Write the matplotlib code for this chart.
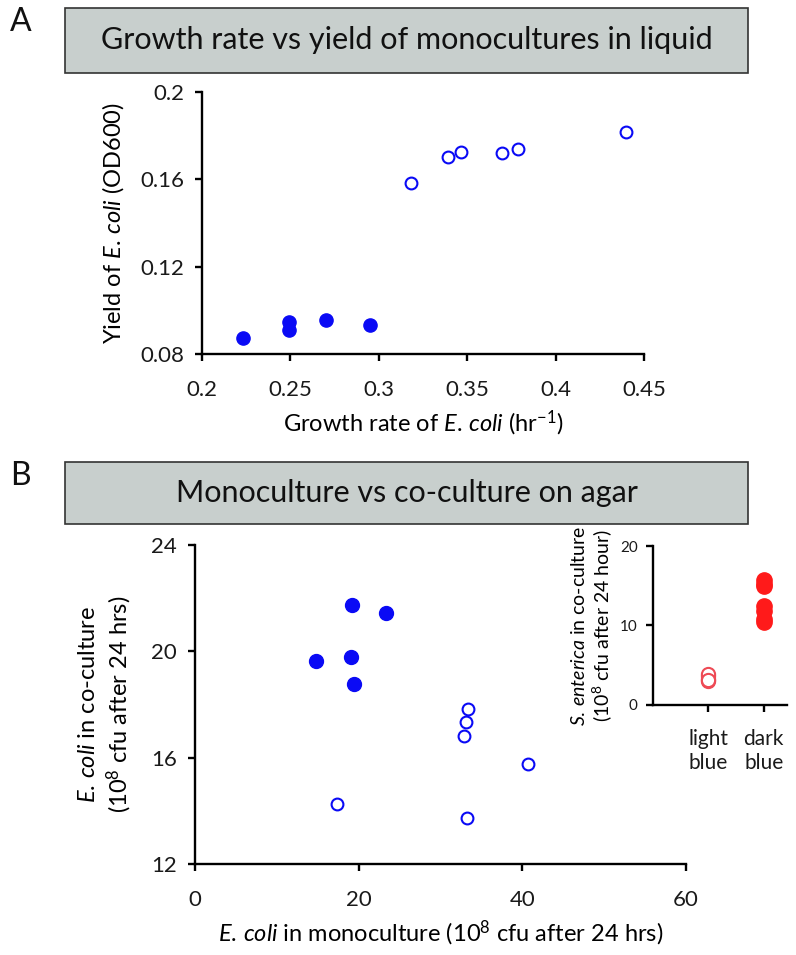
import matplotlib
matplotlib.use("Agg")
import matplotlib.pyplot as plt
from matplotlib.patches import Rectangle

plt.rcParams['font.family'] = ['Lato', 'DejaVu Sans']
plt.rcParams['mathtext.fontset'] = 'custom'
plt.rcParams['mathtext.rm'] = 'Lato'
plt.rcParams['mathtext.it'] = 'Lato:italic'

# panel A: growth rate vs yield (liquid)
a_dark_rate = [0.223, 0.249, 0.249, 0.270, 0.295]
a_dark_yield = [0.0872, 0.0948, 0.0910, 0.0956, 0.0931]
a_light_rate = [0.318, 0.339, 0.3465, 0.3695, 0.379, 0.440]
a_light_yield = [0.1582, 0.1704, 0.1727, 0.1722, 0.1739, 0.1818]

# panel B: monoculture vs co-culture (agar)
b_dark_mono = [14.75, 19.2, 23.3, 19.05, 19.45]
b_dark_co = [19.65, 21.74, 21.43, 19.78, 18.77]
b_light_mono = [17.3, 33.4, 33.1, 32.9, 40.7, 33.2]
b_light_co = [14.26, 17.83, 17.35, 16.82, 15.75, 13.72]

# inset: S. enterica in co-culture
inset_cats = ['light\nblue', 'dark\nblue']
inset_light = [3.0, 3.3, 3.6, 3.9, 3.2]
inset_dark = [15.7, 15.2, 15.0, 12.4, 11.8, 10.8, 10.4]

BLUE = '#0a0af5'
RED = '#ff1a1a'
PINK = '#ee4a55'

fig = plt.figure(figsize=(7.96, 9.55), dpi=100)
W, H = 796.0, 955.0


def px_axes(l, t, r, b):
    return fig.add_axes([l / W, 1 - b / H, (r - l) / W, (b - t) / H])


def style(ax, fs=16):
    for s in ['top', 'right']:
        ax.spines[s].set_visible(False)
    for s in ['left', 'bottom']:
        ax.spines[s].set_linewidth(1.7)
        ax.spines[s].set_color('black')
    ax.tick_params(direction='out', length=5, width=1.7, labelsize=fs, pad=8, colors='black',
                   labelcolor='#1a1a1a')


def title_box(t, b, text, letter):
    fig.patches.append(Rectangle((65 / W, 1 - b / H), (748 - 65) / W, (b - t) / H,
                                 transform=fig.transFigure, facecolor='#c8cfcd',
                                 edgecolor='#333333', linewidth=1.2))
    fig.text((65 + 748) / 2 / W, 1 - (t + b) / 2 / H, text, ha='center', va='center',
             fontsize=22, color='#111111')
    fig.text(10 / W, 1 - (t + 14) / H, letter, ha='left', va='center', fontsize=23, color='#111111')


title_box(8, 73, 'Growth rate vs yield of monocultures in liquid', 'A')
title_box(462, 524, 'Monoculture vs co-culture on agar', 'B')

# ---- panel A
axA = px_axes(202, 92, 644, 354)
axA.plot(a_dark_rate, a_dark_yield, 'o', color=BLUE, ms=9.5, mec=BLUE)
axA.plot(a_light_rate, a_light_yield, 'o', mfc='white', mec=BLUE, mew=1.5, ms=8.5)
axA.set_xlim(0.2, 0.45)
axA.set_ylim(0.08, 0.2)
axA.set_xticks([0.2, 0.25, 0.3, 0.35, 0.4, 0.45])
axA.set_xticklabels(['0.2', '0.25', '0.3', '0.35', '0.4', '0.45'])
axA.set_yticks([0.08, 0.12, 0.16, 0.2])
axA.set_yticklabels(['0.08', '0.12', '0.16', '0.2'])
style(axA)
axA.tick_params(axis='x', pad=14)
axA.set_xlabel(r'Growth rate of $\it{E.\,coli}$ (hr$^{-1}$)', fontsize=17, labelpad=6)
axA.set_ylabel(r'Yield of $\it{E.\,coli}$ (OD600)', fontsize=17, labelpad=10)

# ---- panel B
axB = px_axes(195, 545, 686, 864)
axB.plot(b_dark_mono, b_dark_co, 'o', color=BLUE, ms=10, mec=BLUE)
axB.plot(b_light_mono, b_light_co, 'o', mfc='white', mec=BLUE, mew=1.5, ms=8.5)
axB.set_xlim(0, 60)
axB.set_ylim(12, 24)
axB.set_xticks([0, 20, 40, 60])
axB.set_yticks([12, 16, 20, 24])
style(axB)
axB.tick_params(axis='x', pad=14)
axB.set_xlabel(r'$\it{E.\,coli}$ in monoculture (10$^{8}$ cfu after 24 hrs)', fontsize=17, labelpad=6)
axB.set_ylabel('$\\it{E.\\,coli}$ in co-culture\n(10$^{8}$ cfu after 24 hrs)', fontsize=17,
               labelpad=12, linespacing=1.25)

# ---- inset
axI = px_axes(653, 546, 787, 705)
axI.plot([1] * len(inset_light), inset_light, 'o', mfc='white', mec=PINK, mew=1.5, ms=9.5)
axI.plot([2] * len(inset_dark), inset_dark, 'o', color=RED, mec=RED, ms=11)
axI.set_xlim(0, 2.42)
axI.set_ylim(0, 20)
axI.set_yticks([0, 10, 20])
axI.set_xticks([1, 2])
axI.set_xticklabels(inset_cats, linespacing=1.3)
style(axI, fs=11)
axI.tick_params(axis='x', labelsize=15, pad=12)
axI.tick_params(axis='y', pad=6)
axI.set_ylabel('$\\it{S.\\,enterica}$ in co-culture\n(10$^{8}$ cfu after 24 hour)', fontsize=14,
               labelpad=4, linespacing=1.15)

fig.savefig('out.png', dpi=100)
